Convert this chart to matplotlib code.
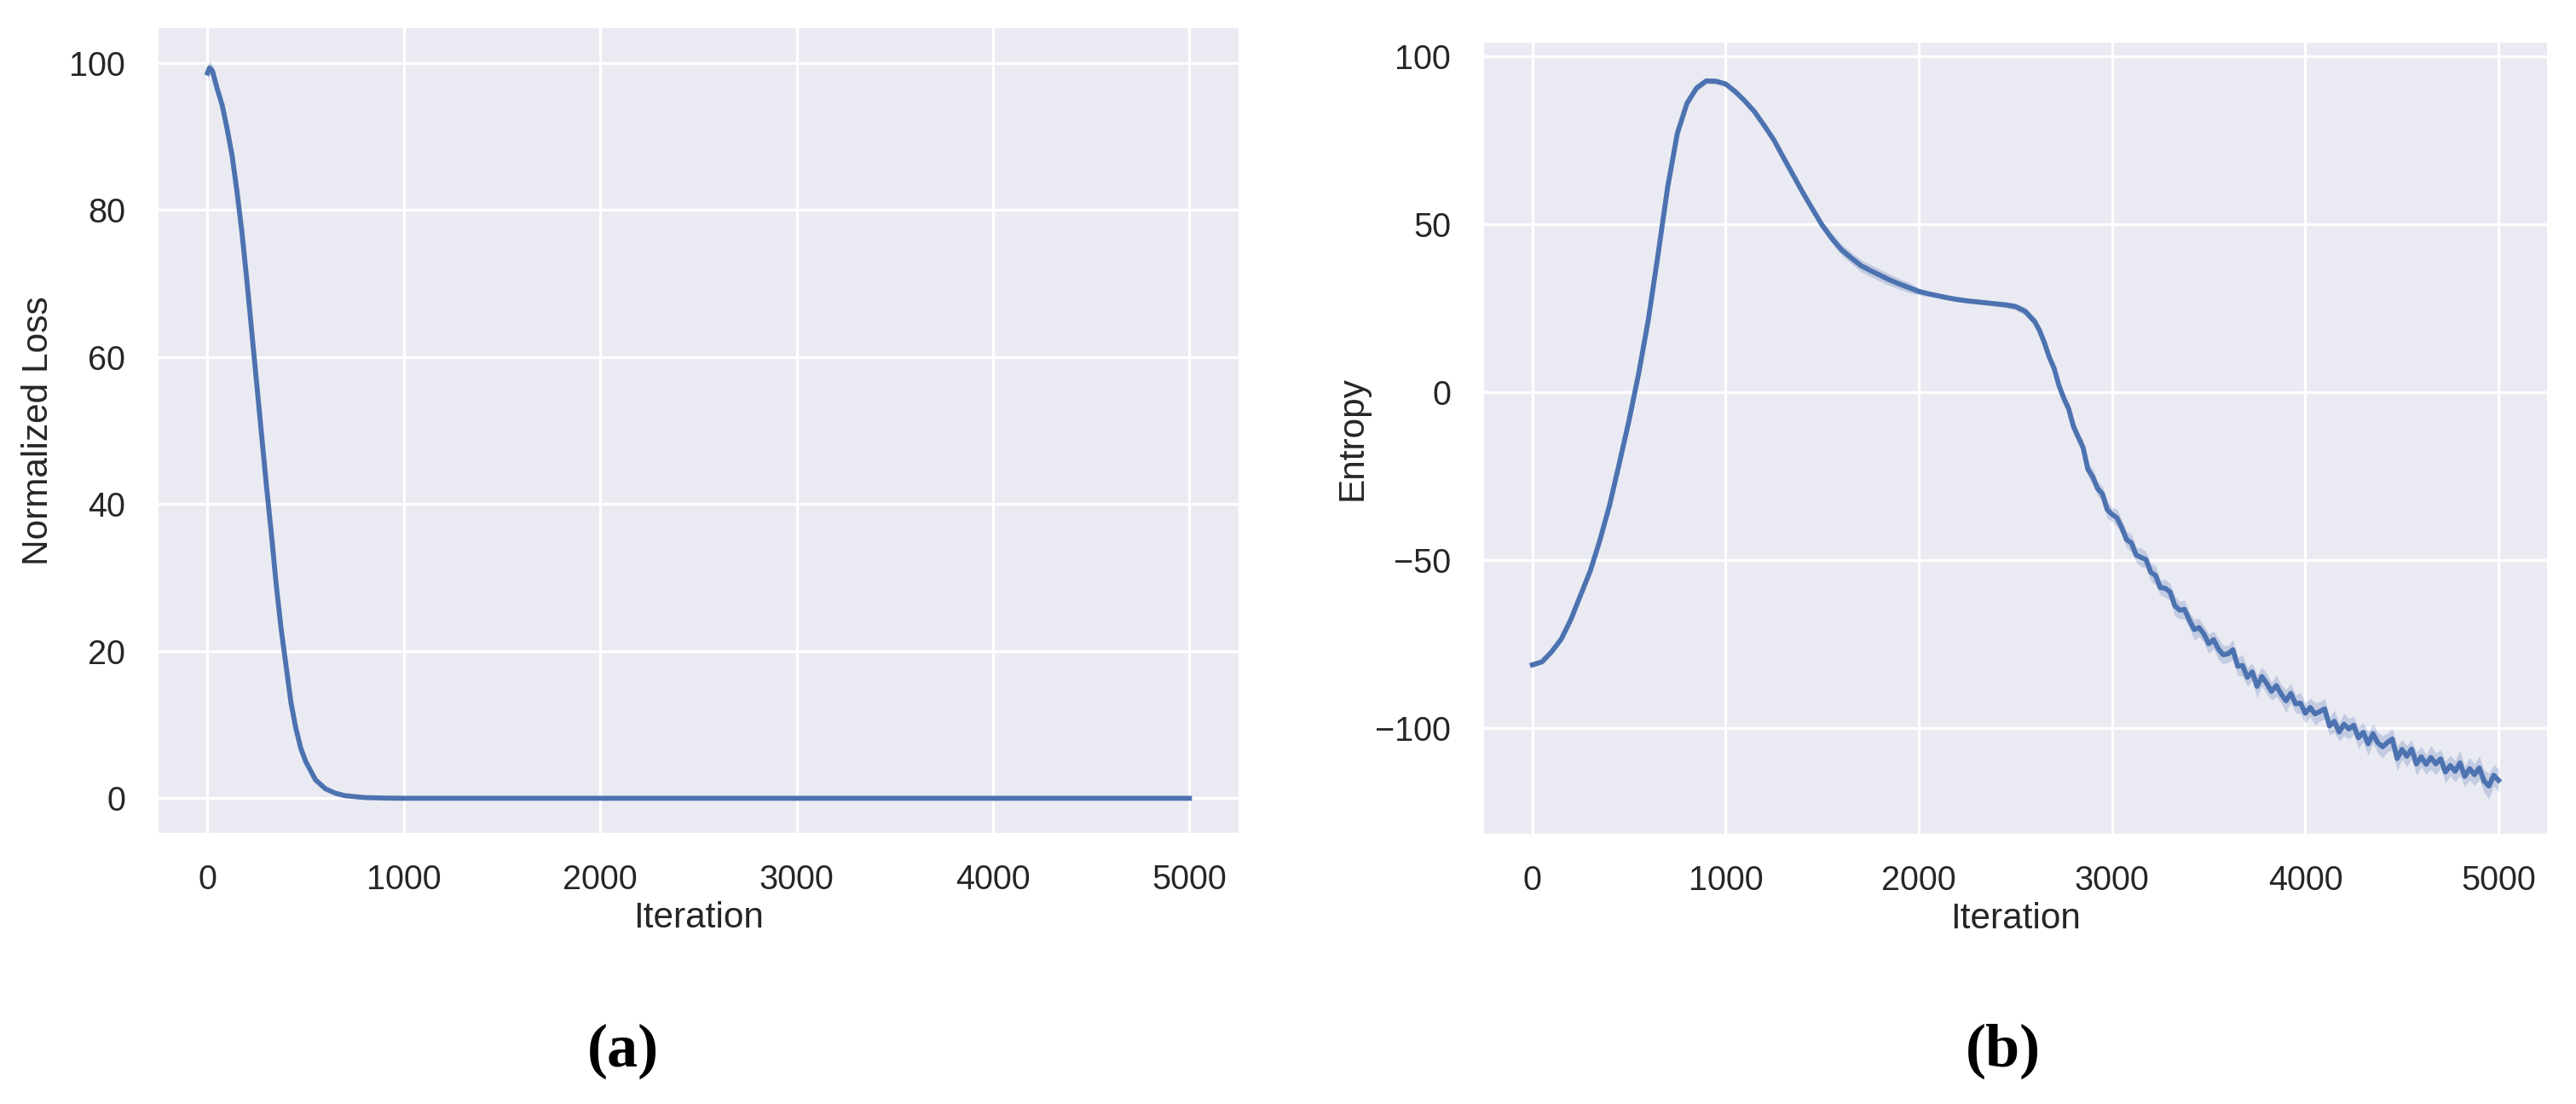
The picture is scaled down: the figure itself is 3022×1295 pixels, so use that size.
import numpy as np
import matplotlib
matplotlib.use("Agg")
import matplotlib.pyplot as plt

# ---- panel (a): normalized loss vs iteration (mean line + CI half-width)
loss_iter = [0, 10, 25, 50, 75, 100, 125, 150, 175, 200, 225, 250, 275, 300, 325, 350,
             375, 400, 425, 450, 475, 500, 550, 600, 650, 700, 800, 900, 1000,
             2000, 3000, 4000, 5000]
loss_mean = [98.6, 99.3, 98.9, 96.4, 94.2, 91.0, 87.4, 82.5, 77.0, 70.5, 63.5, 56.5,
             49.5, 42.5, 36.0, 29.0, 23.0, 18.0, 13.0, 9.5, 6.8, 5.0, 2.5, 1.3, 0.7,
             0.35, 0.1, 0.03, 0.0, 0.0, 0.0, 0.0, 0.0]
loss_ci = [1.0, 0.9, 0.8, 0.6, 0.5, 0.5, 0.4, 0.4, 0.4, 0.4, 0.4, 0.3, 0.3, 0.3, 0.3,
           0.3, 0.3, 0.3, 0.2, 0.2, 0.2, 0.2, 0.1, 0.1, 0.05, 0.05, 0.0, 0.0, 0.0,
           0.0, 0.0, 0.0, 0.0]

# ---- panel (b): entropy vs iteration
# smooth part, every 50 iterations from 0 to 2600
ent_smooth = [-81.2, -80.3, -77.3, -73.5, -67.6, -60.4, -53.2, -44.0, -33.6, -21.2,
              -8.5, 5.5, 21.5, 40.8, 61.0, 77.0, 86.0, 90.6, 92.7, 92.6,
              91.8, 89.5, 86.7, 83.5, 79.4, 75.1, 69.8, 64.6, 59.4, 54.5,
              49.7, 45.8, 42.4, 40.0, 37.7, 36.2, 34.8, 33.4, 32.2, 31.1,
              30.0, 29.3, 28.7, 28.1, 27.6, 27.2, 26.9, 26.6, 26.3, 26.0,
              25.5, 24.1, 21.0]
ent_smooth_ci = [0.8, 0.6, 0.5, 0.5, 0.5, 0.5, 0.5, 0.6, 0.6, 0.7,
                 0.8, 0.9, 1.0, 1.0, 1.0, 1.0, 1.0, 1.0, 0.9, 0.8,
                 0.8, 0.8, 0.8, 0.8, 0.9, 0.9, 1.0, 1.0, 1.0, 1.2,
                 1.3, 1.5, 1.6, 1.7, 1.8, 1.8, 1.8, 1.7, 1.6, 1.5,
                 1.0, 0.8, 0.7, 0.7, 0.7, 0.7, 0.7, 0.7, 0.8, 0.9,
                 1.0, 1.2, 1.4]
# noisy part, every 25 iterations from 2625 to 5000
ent_noisy = [18.3, 14.7, 10.4, 7.1, 2.0, -1.8, -4.9, -10.2, -13.4, -16.5,
             -23.0, -25.2, -28.7, -30.3, -35.0, -36.4, -37.4, -40.3, -43.9, -44.9,
             -48.5, -49.2, -49.8, -53.6, -54.6, -58.2, -58.4, -59.5, -63.6, -64.9,
             -64.7, -67.9, -70.7, -70.1, -72.0, -74.9, -73.7, -76.5, -78.2, -77.9,
             -76.7, -81.6, -81.4, -84.9, -83.3, -87.6, -84.7, -86.7, -89.1, -87.4,
             -89.9, -91.9, -89.7, -92.8, -92.6, -95.6, -93.9, -95.8, -95.1, -94.3,
             -99.4, -98.0, -101.2, -98.9, -100.3, -99.2, -102.9, -101.3, -104.7, -101.7,
             -104.4, -105.6, -104.3, -103.3, -109.1, -106.4, -108.4, -106.3, -110.7, -108.6,
             -110.8, -108.8, -110.7, -109.2, -113.1, -111.2, -112.9, -110.4, -114.4, -112.1,
             -113.9, -111.9, -115.8, -117.3, -114.1, -115.6]
ent_noisy_ci = [1.4, 1.6, 1.5, 1.8, 1.6, 1.9, 1.7, 2.1, 1.8, 2.2,
                2.0, 2.4, 2.1, 2.2, 2.5, 2.1, 2.6, 2.3, 2.4, 2.7,
                2.2, 2.8, 2.4, 2.6, 2.9, 2.3, 2.7, 2.5, 3.0, 2.6,
                2.8, 2.4, 3.1, 2.7, 2.5, 2.9, 2.6, 3.2, 2.8, 2.5,
                3.0, 2.7, 3.3, 2.8, 2.6, 3.4, 2.8, 3.1, 2.7, 3.2,
                2.8, 3.4, 2.9, 2.7, 3.2, 3.0, 2.8, 3.3, 2.9, 3.1,
                2.7, 3.2, 2.8, 3.4, 3.0, 2.8, 3.2, 2.9, 3.5, 2.8,
                3.1, 3.3, 2.8, 3.2, 3.6, 3.0, 3.2, 2.8, 3.4, 3.1,
                2.9, 3.5, 3.2, 2.8, 3.3, 3.0, 3.2, 3.7, 3.1, 3.4,
                3.2, 3.5, 3.3, 3.8, 3.2, 3.4]

ent_iter = np.concatenate([np.arange(0, 2650, 50), np.arange(2625, 5025, 25)])
ent_mean = np.array(ent_smooth + ent_noisy)
ent_ci = np.array(ent_smooth_ci + ent_noisy_ci)

BLUE = "#4C72B0"
plt.rcParams["font.family"] = ["Liberation Sans", "DejaVu Sans"]
plt.rcParams["axes.unicode_minus"] = True

fig = plt.figure(figsize=(30.22, 12.95), dpi=100)
axL = fig.add_axes([0.0615, 0.2456, 0.4193, 0.7289])
axR = fig.add_axes([0.5761, 0.2448, 0.4126, 0.7166])


def style(ax):
    ax.set_facecolor("#EAEAF2")
    ax.grid(True, color="white", linewidth=2.3)
    ax.set_axisbelow(True)
    for s in ax.spines.values():
        s.set_visible(False)
    ax.tick_params(axis="both", length=0, labelsize=28.5, colors="#262626")
    ax.tick_params(axis="y", pad=28)
    ax.tick_params(axis="x", pad=26)
    ax.set_xlim(-250, 5250)
    ax.set_xticks([0, 1000, 2000, 3000, 4000, 5000])
    ax.set_xlabel("Iteration", fontsize=30.5, color="#262626")


# (a)
x = np.array(loss_iter); m = np.array(loss_mean); c = np.array(loss_ci)
axL.fill_between(x, m - c, m + c, color=BLUE, alpha=0.25, linewidth=0)
axL.plot(x, m, color=BLUE, linewidth=4.2)
style(axL)
axL.set_ylim(-4.7, 104.7)
axL.set_yticks([0, 20, 40, 60, 80, 100])
axL.set_ylabel("Normalized Loss", fontsize=30.5, color="#262626")
axL.yaxis.set_label_coords(-0.095, 0.5)
axL.xaxis.set_label_coords(0.5, -0.085)

# (b)
axR.fill_between(ent_iter, ent_mean - ent_ci, ent_mean + ent_ci, color=BLUE, alpha=0.25, linewidth=0)
axR.plot(ent_iter, ent_mean, color=BLUE, linewidth=4.2)
style(axR)
axR.set_ylim(-131.5, 104.1)
axR.set_yticks([-100, -50, 0, 50, 100])
axR.set_ylabel("Entropy", fontsize=30.5, color="#262626")
axR.yaxis.set_label_coords(-0.1075, 0.5)
axR.xaxis.set_label_coords(0.5, -0.086)

for xc, lab in [(731, "a"), (2350, "b")]:
    fig.text(xc / 3022, 1 - 1233 / 1295, "(" + lab + ")", ha="center", va="center",
             fontsize=52, family="Liberation Serif", weight="bold", color="black")

fig.savefig("out.png", dpi=100)
